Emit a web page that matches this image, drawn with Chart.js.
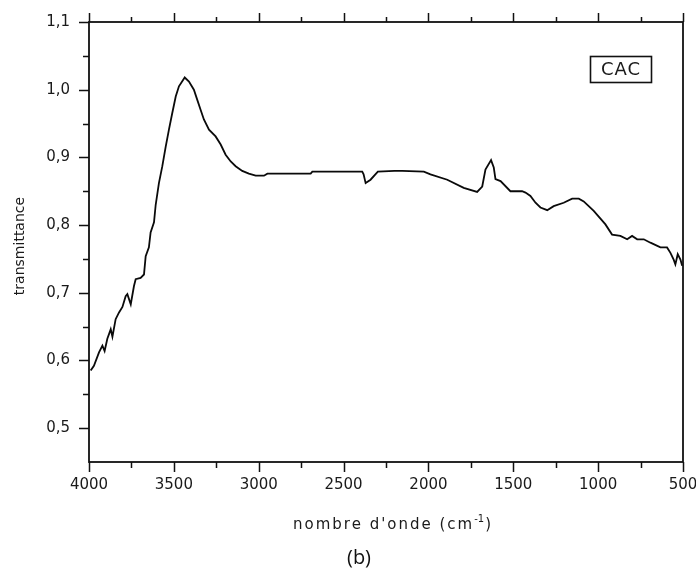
<!DOCTYPE html>
<html>
<head>
<meta charset="utf-8">
<script src="https://cdn.jsdelivr.net/npm/chart.js@4/dist/chart.umd.min.js"></script>
<style>
  html, body { margin: 0; padding: 0; background: #ffffff; }
  #wrap { width: 696px; height: 572px; }
</style>
</head>
<body>
<div id="wrap"><canvas id="ir" width="696" height="572"></canvas></div>
<script>
// FTIR spectrum of the CAC sample: wavenumber (cm-1) vs transmittance
const wavenumber = [
  3990, 3971, 3941, 3921, 3908, 3892, 3872, 3862, 3843, 3823,
  3803, 3784, 3774, 3754, 3735, 3725, 3696, 3676, 3666, 3647,
  3637, 3617, 3607, 3588, 3568, 3548, 3529, 3509, 3489, 3470,
  3436, 3411, 3382, 3362, 3342, 3323, 3293, 3254, 3224, 3195,
  3165, 3136, 3097, 3058, 3018, 2969, 2949, 2694, 2684, 2390,
  2382, 2370, 2341, 2298, 2200, 2154, 2027, 1988, 1889, 1792,
  1713, 1683, 1664, 1631, 1615, 1605, 1575, 1517, 1448, 1428,
  1399, 1369, 1340, 1300, 1262, 1203, 1153, 1114, 1085, 1026,
  957, 918, 869, 829, 800, 770, 731, 692, 633, 594,
  574, 555, 545, 531, 515, 505
];
const transmittance = [
  0.585, 0.592, 0.612, 0.622, 0.614, 0.632, 0.646, 0.635, 0.661, 0.671,
  0.679, 0.695, 0.698, 0.683, 0.710, 0.720, 0.722, 0.727, 0.754, 0.767,
  0.789, 0.804, 0.830, 0.862, 0.887, 0.916, 0.941, 0.966, 0.990, 1.005,
  1.018, 1.012, 1.000, 0.985, 0.970, 0.956, 0.941, 0.931, 0.919, 0.904,
  0.894, 0.887, 0.880, 0.876, 0.873, 0.873, 0.876, 0.876, 0.879, 0.879,
  0.875, 0.862, 0.867, 0.879, 0.880, 0.880, 0.879, 0.875, 0.867, 0.855,
  0.849, 0.857, 0.882, 0.896, 0.885, 0.868, 0.865, 0.850, 0.850, 0.848,
  0.843, 0.833, 0.826, 0.822, 0.828, 0.833, 0.839, 0.839, 0.835, 0.821,
  0.801, 0.786, 0.784, 0.779, 0.784, 0.779, 0.779, 0.774, 0.767, 0.767,
  0.759, 0.749, 0.742, 0.757, 0.749, 0.740
];

// Axis ticks
const xMajorTicks = [4000, 3500, 3000, 2500, 2000, 1500, 1000, 500];
const xMinorTicks = [3750, 3250, 2750, 2250, 1750, 1250, 750];
const yMajorTicks = [0.5, 0.6, 0.7, 0.8, 0.9, 1.0, 1.1];
const yMinorTicks = [0.55, 0.65, 0.75, 0.85, 0.95, 1.05];

const sampleName = 'CAC';
const xTitle = "nombre d'onde (cm";
const yTitle = 'transmittance';
const panelTag = '(b)';

const INK = '#111111';
const TEXT = '#1a1a1a';

// Frame, outward tick marks, titles and the sample label box
const framePlugin = {
  id: 'frame',
  afterDraw(chart) {
    const { ctx, chartArea: a, scales: { x, y } } = chart;
    ctx.save();
    ctx.strokeStyle = INK;
    ctx.lineWidth = 1.8;
    ctx.strokeRect(a.left, a.top, a.right - a.left, a.bottom - a.top);

    ctx.lineWidth = 1.5;
    ctx.beginPath();
    const xt = (list, len, lenTop) => list.forEach(v => {
      const px = Math.round(x.getPixelForValue(v)) + 0.5;
      ctx.moveTo(px, a.bottom); ctx.lineTo(px, a.bottom + len);
      ctx.moveTo(px, a.top); ctx.lineTo(px, a.top - lenTop);
    });
    xt(xMajorTicks, 10, 9);
    xt(xMinorTicks, 6, 5);
    const yt = (list, len) => list.forEach(v => {
      const py = Math.round(y.getPixelForValue(v)) + 0.5;
      ctx.moveTo(a.left, py); ctx.lineTo(a.left - len, py);
    });
    yt(yMajorTicks, 10);
    yt(yMinorTicks, 6);
    ctx.stroke();

    // y title
    ctx.fillStyle = TEXT;
    ctx.save();
    ctx.translate(20, 246);
    ctx.rotate(-Math.PI / 2);
    ctx.font = '14px "DejaVu Sans"';
    ctx.textAlign = 'center';
    ctx.textBaseline = 'middle';
    ctx.fillText(yTitle, 0, 0);
    ctx.restore();

    // x title with superscript
    ctx.font = '15px "DejaVu Sans"';
    ctx.letterSpacing = '2px';
    ctx.textAlign = 'left';
    ctx.textBaseline = 'alphabetic';
    let tx = 293;
    const base = 529;
    ctx.fillText(xTitle, tx, base);
    tx += ctx.measureText(xTitle).width;
    ctx.font = '10px "DejaVu Sans"';
    ctx.letterSpacing = '0px';
    ctx.fillText('-1', tx, base - 7);
    tx += ctx.measureText('-1').width + 1;
    ctx.font = '15px "DejaVu Sans"';
    ctx.fillText(')', tx, base);

    // panel tag
    ctx.font = '20px "Open Sans"';
    ctx.textAlign = 'center';
    ctx.fillStyle = '#111';
    ctx.fillText(panelTag, 359, 564);

    // sample label box
    ctx.lineWidth = 1.6;
    ctx.strokeStyle = INK;
    ctx.strokeRect(590.5, 56.5, 61, 26);
    ctx.font = '18px "DejaVu Sans"';
    ctx.letterSpacing = '1px';
    ctx.textAlign = 'center';
    ctx.textBaseline = 'middle';
    ctx.fillStyle = TEXT;
    ctx.fillText(sampleName, 621, 70);
    ctx.restore();
  }
};

const points = wavenumber.map((w, i) => ({ x: w, y: transmittance[i] }));

new Chart(document.getElementById('ir'), {
  type: 'line',
  data: {
    datasets: [{
      label: sampleName,
      data: points,
      borderColor: '#0a0a0a',
      borderWidth: 1.8,
      pointRadius: 0,
      tension: 0,
      fill: false
    }]
  },
  options: {
    responsive: false,
    animation: false,
    devicePixelRatio: 1,
    layout: { padding: { top: 22, right: 13, left: 0, bottom: 0 } },
    plugins: { legend: { display: false }, tooltip: { enabled: false } },
    scales: {
      x: {
        type: 'linear',
        reverse: true,
        min: 500,
        max: 4000,
        grid: { display: false, drawTicks: false },
        border: { display: false },
        afterBuildTicks: s => { s.ticks = xMajorTicks.map(v => ({ value: v })); },
        afterFit: s => { s.height = 110; s.paddingLeft = 0; s.paddingRight = 0; },
        ticks: {
          autoSkip: false,
          maxRotation: 0,
          padding: 14,
          color: TEXT,
          font: { family: 'DejaVu Sans', size: 15 },
          callback: v => String(v)
        }
      },
      y: {
        type: 'linear',
        min: 0.45,
        max: 1.1,
        grid: { display: false, drawTicks: false },
        border: { display: false },
        afterBuildTicks: s => { s.ticks = yMajorTicks.map(v => ({ value: v })); },
        afterFit: s => { s.width = 89; s.paddingTop = 0; s.paddingBottom = 0; },
        ticks: {
          autoSkip: false,
          padding: 19,
          color: TEXT,
          font: { family: 'DejaVu Sans', size: 15 },
          callback: v => Number(v).toFixed(1).replace('.', ',')
        }
      }
    }
  },
  plugins: [framePlugin]
});
</script>
</body>
</html>
